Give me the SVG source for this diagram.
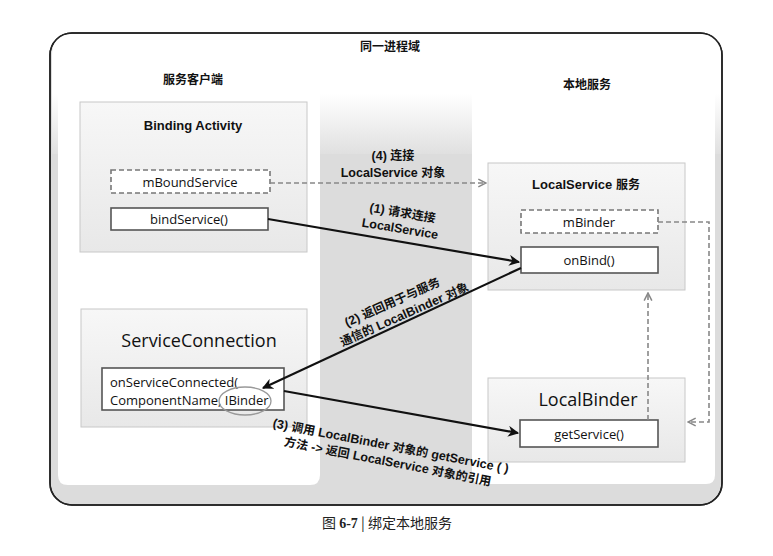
<svg xmlns="http://www.w3.org/2000/svg" width="773" height="556" viewBox="0 0 773 556">
<defs>
<style>
.zh{font-family:"Noto Sans CJK SC","Liberation Sans",sans-serif;font-weight:bold;fill:#111}
.lb{font-family:"Liberation Sans","Noto Sans CJK SC",sans-serif;fill:#111}
.la{font-family:"Liberation Sans",sans-serif;font-weight:bold;font-size:12.5px}
.ui{font-family:"Open Sans","Noto Sans",sans-serif;fill:#111}
.panel{stroke:#c8c8c8;stroke-width:1}
.dash{fill:#fff;stroke:#777;stroke-width:1.6;stroke-dasharray:5 3}
.solid{fill:#fff;stroke:#555;stroke-width:1.6}
.blk{stroke:#111;stroke-width:2.2;fill:none}
.gdash{stroke:#888;stroke-width:1.6;stroke-dasharray:5 3;fill:none}
</style>
<marker id="ab" viewBox="0 0 10 10" refX="9" refY="5" markerWidth="5" markerHeight="5" orient="auto" markerUnits="strokeWidth">
<path d="M0,0 L10,5 L0,10 L3,5 z" fill="#111"/>
</marker>
<marker id="ag" viewBox="0 0 10 10" refX="9" refY="5" markerWidth="6" markerHeight="6" orient="auto" markerUnits="strokeWidth">
<path d="M1,1 L9,5 L1,9" fill="none" stroke="#888" stroke-width="1.6"/>
</marker>
<linearGradient id="mid" x1="0" y1="0" x2="0" y2="1">
<stop offset="0" stop-color="#fff"/>
<stop offset="1" stop-color="#e0e0e0"/>
</linearGradient>
<linearGradient id="pg" x1="0" y1="0" x2="0" y2="1">
<stop offset="0" stop-color="#f7f7f7"/>
<stop offset="1" stop-color="#e8e8e8"/>
</linearGradient>
</defs>

<g id="background">
<rect x="50" y="33" width="672" height="472" rx="22" fill="#dcdcdc" stroke="#222" stroke-width="1.5"/>
<path d="M72,34 L700,34 Q721,34 721,55 L721,95 L52,95 L52,55 Q52,34 72,34 z" fill="#fff"/>
<rect x="52" y="94" width="669" height="60" fill="url(#mid)"/>
<path d="M58,90 L320,90 L320,475 Q320,485 310,485 L68,485 Q58,485 58,475 z" fill="#fff"/>
<path d="M472,90 L715,90 L715,475 Q715,484 706,484 L482,484 Q472,484 472,475 z" fill="#fff"/>
<rect x="50" y="33" width="672" height="472" rx="22" fill="none" stroke="#222" stroke-width="1.5"/>
</g>

<g id="titles">
<text class="zh" x="390" y="51" font-size="12" text-anchor="middle">同一进程域</text>
<text class="zh" x="193" y="84" font-size="12" text-anchor="middle">服务客户端</text>
<text class="zh" x="587" y="89" font-size="12" text-anchor="middle">本地服务</text>
</g>

<g id="binding-activity">
<rect class="panel" x="80" y="102" width="227" height="150" fill="url(#pg)"/>
<text class="lb" x="193" y="130" font-size="13" font-weight="bold" text-anchor="middle">Binding Activity</text>
</g>
<g id="mBoundService">
<rect class="dash" x="111" y="170" width="159" height="23"/>
<text class="ui" x="190" y="187" font-size="13" text-anchor="middle">mBoundService</text>
</g>
<g id="bindService">
<rect class="solid" x="111" y="208" width="157" height="22"/>
<text class="ui" x="189" y="224" font-size="13" text-anchor="middle">bindService()</text>
</g>

<g id="localservice">
<rect class="panel" x="488" y="163" width="197" height="127" fill="url(#pg)"/>
<text class="lb" x="586" y="189" font-size="13" font-weight="bold" text-anchor="middle">LocalService <tspan class="zh" font-size="12">服务</tspan></text>
</g>
<g id="mBinder">
<rect class="dash" x="521" y="210" width="137" height="23"/>
<text class="ui" x="589" y="227" font-size="13" text-anchor="middle">mBinder</text>
</g>
<g id="onBind">
<rect class="solid" x="521" y="247" width="137" height="26"/>
<text class="ui" x="589" y="265" font-size="13" text-anchor="middle">onBind()</text>
</g>

<g id="serviceconnection">
<rect class="panel" x="81" y="309" width="226" height="118" fill="url(#pg)"/>
<text class="ui" x="199" y="347" font-size="18" text-anchor="middle">ServiceConnection</text>
</g>
<g id="onServiceConnected">
<rect class="solid" x="102" y="368" width="182" height="42"/>
<text class="ui" x="110" y="387" font-size="13">onServiceConnected(</text>
<text class="ui" x="110" y="405" font-size="13">ComponentName, IBinder</text>
<ellipse cx="245" cy="401" rx="26" ry="14" fill="none" stroke="#999" stroke-width="1.3"/>
</g>

<g id="localbinder">
<rect class="panel" x="488" y="378" width="197" height="84" fill="url(#pg)"/>
<text class="ui" x="588" y="406" font-size="18" text-anchor="middle">LocalBinder</text>
</g>
<g id="getService">
<rect class="solid" x="520" y="420" width="138" height="27"/>
<text class="ui" x="589" y="439" font-size="13" text-anchor="middle">getService()</text>
</g>

<g id="connectors">
<line class="gdash" x1="270" y1="183" x2="486" y2="183" marker-end="url(#ag)"/>
<line class="blk" x1="268" y1="219" x2="519" y2="262" marker-end="url(#ab)"/>
<line class="blk" x1="521" y1="268" x2="263" y2="388" marker-end="url(#ab)"/>
<line class="blk" x1="284" y1="391" x2="518" y2="433" marker-end="url(#ab)"/>
<polyline class="gdash" points="658,222 709,222 709,422 688,422" marker-end="url(#ag)"/>
<line class="gdash" x1="648" y1="420" x2="648" y2="293" marker-end="url(#ag)"/>
</g>

<g id="labels">
<text class="zh" x="393" y="160" font-size="12" text-anchor="middle"><tspan class="la">(4) </tspan>连接</text>
<text class="zh" x="393" y="177" font-size="12" text-anchor="middle"><tspan class="la">LocalService </tspan>对象</text>
<g transform="translate(402,217) rotate(9.5)">
<text class="zh" x="0" y="0" font-size="12" text-anchor="middle"><tspan class="la">(1) </tspan>请求连接</text>
<text class="zh" x="0" y="16" text-anchor="middle"><tspan class="la">LocalService</tspan></text>
</g>
<g transform="translate(394,306) rotate(-24)">
<text class="zh" x="0" y="0" font-size="12" text-anchor="middle"><tspan class="la">(2) </tspan>返回用于与服务</text>
<text class="zh" x="6" y="16" font-size="12" text-anchor="middle">通信的<tspan class="la"> LocalBinder </tspan>对象</text>
</g>
<g transform="translate(390,450) rotate(11)">
<text class="zh" x="0" y="0" font-size="12" text-anchor="middle"><tspan class="la">(3) </tspan>调用<tspan class="la"> LocalBinder </tspan>对象的<tspan class="la"> getService ( )</tspan></text>
<text class="zh" x="0" y="16" font-size="12" text-anchor="middle">方法<tspan class="la"> -&gt; </tspan>返回<tspan class="la"> LocalService </tspan>对象的引用</text>
</g>
</g>

<g id="caption">
<text x="387" y="528" font-size="14" text-anchor="middle" font-family="Noto Sans CJK SC, Liberation Serif, serif" fill="#222">图 <tspan font-family="Liberation Serif, serif" font-weight="bold">6-7</tspan> |  绑定本地服务</text>
</g>
</svg>
